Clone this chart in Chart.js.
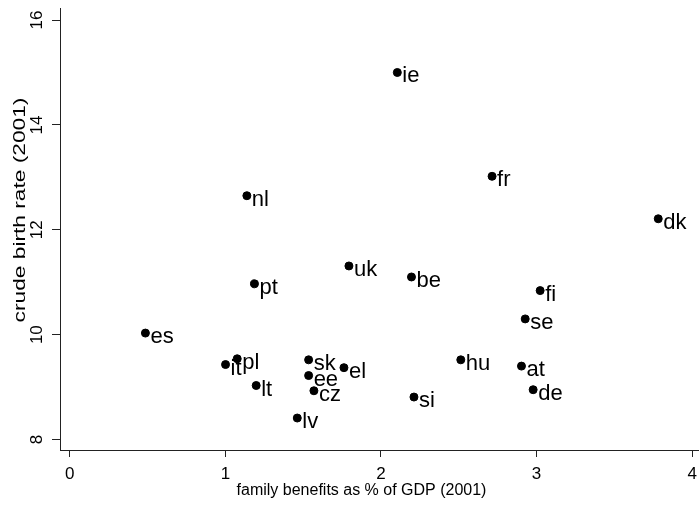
<!DOCTYPE html>
<html>
<head>
<meta charset="utf-8">
<script src="https://cdn.jsdelivr.net/npm/chart.js@4/dist/chart.umd.min.js"></script>
<style>
  html, body { margin: 0; padding: 0; background: #fff; }
  #wrap { width: 699px; height: 505px; }
</style>
</head>
<body>
<div id="wrap"><canvas id="myChart" width="699" height="505"></canvas></div>
<script>
// paises (codigo) y valores
const countries = ['ie', 'fr', 'dk', 'nl', 'uk', 'be', 'pt', 'fi', 'se', 'es', 'hu', 'at', 'de', 'si', 'pl', 'it', 'lt', 'sk', 'ee', 'el', 'cz', 'lv'];
const familyBenefits = [2.105, 2.714, 3.782, 1.138, 1.794, 2.196, 1.187, 3.023, 2.927, 0.486, 2.513, 2.903, 2.978, 2.212, 1.076, 1.001, 1.198, 1.535, 1.535, 1.762, 1.569, 1.462];
const birthRate = [15.00, 13.02, 12.21, 12.65, 11.31, 11.10, 10.97, 10.84, 10.30, 10.03, 9.52, 9.40, 8.95, 8.81, 9.54, 9.43, 9.03, 9.52, 9.22, 9.37, 8.93, 8.41];
const xTicks = [0, 1, 2, 3, 4];
const yTicks = [8, 10, 12, 14, 16];

const points = countries.map((c, i) => ({ x: familyBenefits[i], y: birthRate[i], label: c }));

// etiquetas al lado de cada punto
const pointLabels = {
    id: 'pointLabels',
    afterDatasetsDraw(chart) {
        const ctx = chart.ctx;
        const meta = chart.getDatasetMeta(0);
        ctx.save();
        ctx.fillStyle = '#000';
        ctx.font = '22px "Liberation Sans", Arial, sans-serif';
        ctx.textAlign = 'left';
        ctx.textBaseline = 'alphabetic';
        meta.data.forEach((el, i) => {
            ctx.fillText(countries[i], el.x + 5, el.y + 10);
        });
        ctx.restore();
    }
};

// los titulos del original no quedan centrados en el area del grafico
// (y el del eje y viene estirado), asi que se corren un poco
const wrapTitle = (s, fn) => {
    const orig = s.drawTitle.bind(s);
    s.drawTitle = function () {
        this.ctx.save();
        fn(this.ctx, this);
        orig();
        this.ctx.restore();
    };
};
const titleTweaks = {
    id: 'titleTweaks',
    afterLayout(chart) {
        if (chart._titlesDone) return;
        wrapTitle(chart.scales.x, (c) => { c.translate(-18, 0); });
        wrapTitle(chart.scales.y, (c, s) => {
            const cy = (s.top + s.bottom) / 2;
            c.translate(0, cy - 19);
            c.scale(1, 1.42);
            c.translate(0, -cy);
        });
        chart._titlesDone = true;
    }
};

const axisColor = '#222';
const font = '"Liberation Sans", Arial, sans-serif';
const ctx = document.getElementById('myChart').getContext('2d');
const myChart = new Chart(ctx, {
    type: 'scatter',
    data: {
        datasets: [{
            data: points,
            backgroundColor: '#000',
            borderColor: '#000',
            pointRadius: 4,
            pointHoverRadius: 4
        }]
    },
    options: {
        responsive: false,
        animation: false,
        events: [],
        layout: { autoPadding: false, padding: { top: 8, right: 0, left: 0, bottom: 0 } },
        plugins: {
            legend: { display: false },
            tooltip: { enabled: false }
        },
        scales: {
            x: {
                type: 'linear',
                min: -0.063,
                max: 4.044,
                afterBuildTicks: (scale) => { scale.ticks = xTicks.map(v => ({ value: v })); },
                afterFit: (scale) => { scale.height = 55; scale.paddingLeft = 0; scale.paddingRight = 0; },
                grid: { display: true, drawOnChartArea: false, drawTicks: true, tickLength: 7, color: axisColor, tickColor: axisColor },
                border: { display: true, color: axisColor, width: 1 },
                ticks: {
                    color: '#000',
                    padding: 7,
                    maxRotation: 0,
                    autoSkip: false,
                    font: { family: font, size: 17 }
                },
                title: {
                    display: true,
                    text: 'family benefits as % of GDP (2001)',
                    color: '#000',
                    padding: { top: 0, bottom: 5 },
                    font: { family: font, size: 16 }
                }
            },
            y: {
                type: 'linear',
                min: 7.80,
                max: 16.23,
                afterBuildTicks: (scale) => { scale.ticks = yTicks.map(v => ({ value: v })); },
                afterFit: (scale) => { scale.width = 60; scale.paddingTop = 0; scale.paddingBottom = 0; },
                grid: { display: true, drawOnChartArea: false, drawTicks: true, tickLength: 8, color: axisColor, tickColor: axisColor },
                border: { display: true, color: axisColor, width: 1 },
                ticks: {
                    color: '#000',
                    padding: 5,
                    minRotation: 90,
                    maxRotation: 90,
                    crossAlign: 'center',
                    autoSkip: false,
                    font: { family: font, size: 17 }
                },
                title: {
                    display: true,
                    text: 'crude birth rate (2001)',
                    color: '#000',
                    padding: { top: 11, bottom: 0 },
                    font: { family: font, size: 16 }
                }
            }
        }
    },
    plugins: [pointLabels, titleTweaks]
});
</script>
</body>
</html>
